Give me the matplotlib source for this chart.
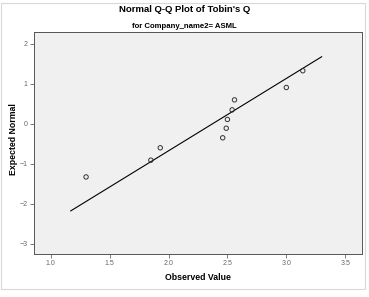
import matplotlib
matplotlib.use("Agg")
from matplotlib import pyplot as plt
from matplotlib.patches import Rectangle

# values
observed = [1.30, 1.85, 1.93, 2.46, 2.49, 2.50, 2.54, 2.56, 3.00, 3.14]
expected = [-1.33, -0.91, -0.60, -0.35, -0.11, 0.11, 0.35, 0.60, 0.91, 1.33]
line_x = [1.17, 3.30]
line_y = [-2.18, 1.68]
xticks = [1.0, 1.5, 2.0, 2.5, 3.0, 3.5]
yticks = [-3, -2, -1, 0, 1, 2]

plt.rcParams['font.family'] = ['Liberation Sans', 'DejaVu Sans']

fig = plt.figure(figsize=(3.69, 2.97), dpi=100)
fig.patch.set_facecolor('white')
fig.patches.append(Rectangle((1/369, 8/297), 364/369, 286/297, transform=fig.transFigure,
                             fill=False, edgecolor='#d8d8d8', linewidth=0.8))

ax = fig.add_axes([34/369, 1 - 254/297, 327.7/369, 222/297])
ax.set_facecolor('#f0f0f0')

ax.plot(line_x, line_y, color='black', linewidth=0.8)
ax.scatter(observed, expected, s=10, facecolors='none', edgecolors='#333333', linewidths=0.7, zorder=3)

ax.set_xlim(0.858, 3.64)
ax.set_ylim(-3.26, 2.3)
ax.set_xticks(xticks)
ax.set_xticklabels([f"{v:.1f}" for v in xticks])
ax.set_yticks(yticks)
ax.tick_params(labelsize=5, colors='#666666', length=3, width=0.6, pad=1.5)
for s in ax.spines.values():
    s.set_color('#555555')
    s.set_linewidth(0.7)

ax.set_xlabel('Observed Value', fontsize=6.3, fontweight='bold', labelpad=4)
fig.text(14/369, 1 - 139/297, 'Expected Normal', rotation=90, ha='center', va='center',
         fontsize=6.3, fontweight='bold')

fig.text(0.5, 1 - 10/297, "Normal Q-Q Plot of Tobin's Q", ha='center', va='center',
         fontsize=6.8, fontweight='bold')
fig.text(0.5, 1 - 27/297, "for Company_name2= ASML", ha='center', va='center',
         fontsize=5.6, fontweight='bold')

fig.savefig('out.png', dpi=100)
